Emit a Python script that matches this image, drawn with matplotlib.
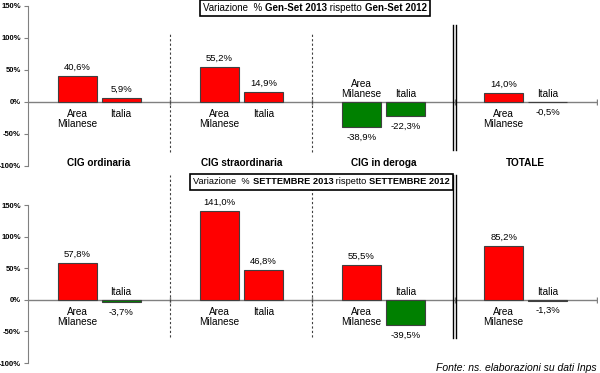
import numpy as np
import matplotlib
matplotlib.use("Agg")
from matplotlib import pyplot as plt
from matplotlib.offsetbox import TextArea, HPacker, AnchoredOffsetbox

plt.rcParams["font.family"] = ["Liberation Sans", "DejaVu Sans"]

groups = ["CIG ordinaria", "CIG straordinaria", "CIG in deroga", "TOTALE"]
areas = ["Area\nMilanese", "Italia"]
gen_set_milano = [40.6, 55.2, -38.9, 14.0]
gen_set_italia = [5.9, 14.9, -22.3, -0.5]
settembre_milano = [57.8, 141.0, 55.5, 85.2]
settembre_italia = [-3.7, 46.8, -39.5, -1.3]
yticks = [-100, -50, 0, 50, 100, 150]
title_top = [("Variazione  % ", "normal"), ("Gen-Set 2013", "bold"),
             (" rispetto ", "normal"), ("Gen-Set 2012", "bold")]
title_bottom = [("Variazione  % ", "normal"), ("SETTEMBRE 2013", "bold"),
                (" rispetto ", "normal"), ("SETTEMBRE 2012", "bold")]
source = "Fonte: ns. elaborazioni su dati Inps"

RED = "#ff0000"
GREEN = "#008000"


def fmt(v):
    return f"{v:.1f}%".replace(".", ",")


def draw_panel(ax, milano, italia):
    x = np.arange(len(groups))
    off, w = 0.155, 0.275
    for dx, vals, name in ((-off, milano, areas[0]), (off, italia, areas[1])):
        colors = [RED if v >= 0 else GREEN for v in vals]
        ax.bar(x + dx, vals, w, color=colors, edgecolor="#404040",
               linewidth=0.8, zorder=3)
        for xi, v in zip(x + dx, vals):
            if v >= 0:
                ax.annotate(fmt(v), (xi, v), xytext=(0, 3), textcoords="offset points",
                            ha="center", va="bottom", fontsize=6.8)
                ax.annotate(name, (xi, 0), xytext=(0, -5), textcoords="offset points",
                            ha="center", va="top", fontsize=7.2, linespacing=1.05)
            else:
                ax.annotate(name, (xi, 0), xytext=(0, 2), textcoords="offset points",
                            ha="center", va="bottom", fontsize=7.2, linespacing=1.05)
                ax.annotate(fmt(v), (xi, v), xytext=(0, -4), textcoords="offset points",
                            ha="center", va="top", fontsize=6.8)
    ax.axhline(0, color="#808080", lw=1, zorder=2)
    bounds = np.arange(len(groups)) + 0.5
    ax.plot(bounds, np.zeros_like(bounds), "|", ms=4, color="#808080", zorder=2)
    ax.set_xlim(-0.5, len(groups) - 0.5)
    ax.set_ylim(-100, 150)
    ax.set_yticks(yticks)
    ax.set_yticklabels([f"{t}%" for t in yticks], fontsize=5.5, fontweight="bold")
    ax.set_xticks([])
    for s in ("top", "right", "bottom"):
        ax.spines[s].set_visible(False)
    ax.spines["left"].set_color("#808080")
    ax.tick_params(axis="y", length=3, color="#808080", pad=2)
    return bounds


def title_box(fig, parts, xy, size):
    boxes = [TextArea(t, textprops=dict(fontsize=size, fontweight=wt)) for t, wt in parts]
    pack = HPacker(children=boxes, align="baseline", pad=0, sep=0)
    box = AnchoredOffsetbox(loc="center", child=pack, pad=0.25, borderpad=0,
                            frameon=True, bbox_to_anchor=xy,
                            bbox_transform=fig.transFigure)
    box.patch.set_edgecolor("black")
    box.patch.set_linewidth(1.2)
    box.set_zorder(10)
    fig.add_artist(box)


fig = plt.figure(figsize=(6, 3.73), dpi=100)
ax1 = fig.add_axes([0.0467, 0.555, 0.948, 0.429])
ax2 = fig.add_axes([0.0467, 0.0268, 0.948, 0.4236])

b = draw_panel(ax1, gen_set_milano, gen_set_italia)
for xb in b[:2]:
    ax1.axvline(xb, 0.0875, 0.83, color="#404040", lw=0.8, ls=(0, (2, 2)))
for d in (-0.008, 0.008):
    ax1.axvline(b[2] + d, 0.1, 0.88, color="black", lw=1)
for i, g in enumerate(groups):
    ax1.text(i, 0.02, g, transform=ax1.get_xaxis_transform(), ha="center",
             va="center", fontsize=7.2, fontweight="bold")

b = draw_panel(ax2, settembre_milano, settembre_italia)
for xb in b[:2]:
    ax2.axvline(xb, 0.165, 1.19, color="#404040", lw=0.8, ls=(0, (2, 2)), clip_on=False)
for d in (-0.008, 0.008):
    ax2.axvline(b[2] + d, 0.158, 1.19, color="black", lw=1, clip_on=False)

title_box(fig, title_top, (0.525, 0.9786), 7)
title_box(fig, title_bottom, (0.536, 0.513), 6.7)

fig.text(0.995, 0.0134, source, ha="right", va="center", fontsize=7.5, style="italic")

fig.savefig("out.png", dpi=100)
